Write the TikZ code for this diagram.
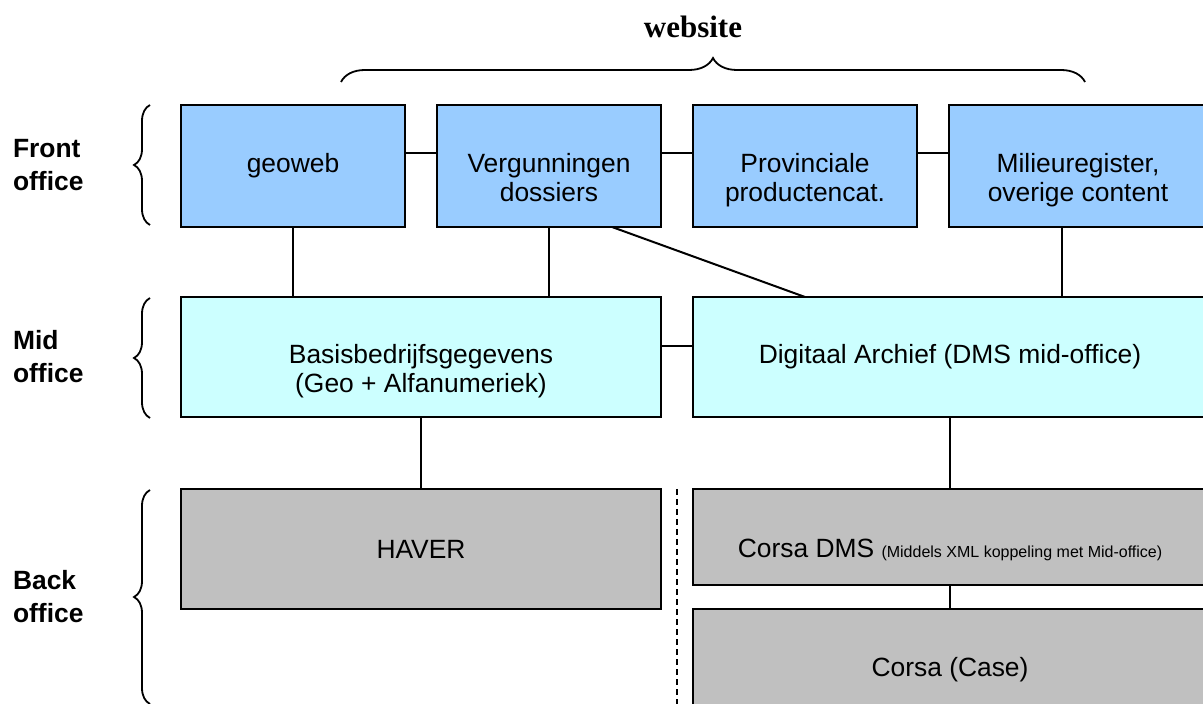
\documentclass[tikz,border=0pt]{standalone}
\usepackage{fontspec}
\setmainfont{Liberation Serif}
\setsansfont{Liberation Sans}
\usepackage{xcolor}
\usepackage{tikz}
\usetikzlibrary{positioning,calc,decorations.pathreplacing}

\definecolor{frontblue}{HTML}{99CCFF}
\definecolor{midcyan}{HTML}{CCFFFF}
\definecolor{backgray}{HTML}{C0C0C0}

\begin{document}
\begin{tikzpicture}[
  x=0.5pt, y=-0.5pt,
  node distance=16pt and 16pt,
  every node/.style={font=\sffamily\fontsize{13.2}{14.5}\selectfont},
  officebox/.style={rectangle, draw, line width=1pt, outer sep=0pt,
    align=center, minimum height=61pt},
  twoline/.style={text height=38.8pt, text depth=2.8pt},
  frontbox/.style={officebox, fill=frontblue, minimum width=112pt},
  midbox/.style={officebox, fill=midcyan, minimum height=60pt},
  backbox/.style={officebox, fill=backgray},
  link/.style={line width=1pt},
  officebrace/.style={decorate, decoration={brace, amplitude=8pt}, line width=0.9pt},
  layer/.style={font=\sffamily\bfseries\fontsize{13.2}{16.5}\selectfont,
    align=left, anchor=west},
]
\clip (0,0) rectangle (1203,704);

% Front office
\node[frontbox, anchor=north west] (geoweb) at (181,105) {geoweb};
\node[frontbox, twoline, right=of geoweb] (vergunning) {Vergunningen\\dossiers};
\node[frontbox, twoline, right=of vergunning] (productcat) {Provinciale\\productencat.};
\node[frontbox, twoline, right=of productcat, minimum width=129pt] (milieu) {Milieuregister,\\overige content};

% Mid office
\node[midbox, twoline, anchor=north west, minimum width=240pt] (basis) at (181,297)
  {Basisbedrijfsgegevens\\(Geo + Alfanumeriek)};
\node[midbox, right=of basis, minimum width=257pt] (archief) {Digitaal Archief (DMS mid-office)};

% Back office
\node[backbox, anchor=north west, minimum width=240pt, minimum height=60pt] (haver) at (181,489) {HAVER};
\node[backbox, anchor=north west, minimum width=257pt, minimum height=48pt,
  text height=24pt, text depth=3pt] (corsadms) at (693,489)
  {Corsa DMS {\fontsize{8}{9}\selectfont(Middels XML koppeling met Mid-office)}};
\node[backbox, below=12pt of corsadms, minimum width=257pt] (corsacase) {Corsa (Case)};

% Links
\draw[link] ([yshift=6.5pt]geoweb.east) -- ([yshift=6.5pt]vergunning.west);
\draw[link] ([yshift=6.5pt]vergunning.east) -- ([yshift=6.5pt]productcat.west);
\draw[link] ([yshift=6.5pt]productcat.east) -- ([yshift=6.5pt]milieu.west);
\draw[link] (geoweb.south) -- (geoweb.south |- basis.north);
\draw[link] (vergunning.south) -- (vergunning.south |- basis.north);
\draw[link] ([xshift=31.5pt]vergunning.south) -- ([xshift=-72.5pt]archief.north);
\draw[link] ([xshift=-8pt]milieu.south) -- ([xshift=-8pt]milieu.south |- archief.north);
\draw[link] ([yshift=5.5pt]basis.east) -- ([yshift=5.5pt]archief.west);
\draw[link] (basis.south) -- (haver.north);
\draw[link] (archief.south) -- (corsadms.north);
\draw[link] (corsadms) -- (corsacase);

% Separator
\coordinate (sepTop) at ($(haver.north east)!0.5!(corsadms.north west)$);
\coordinate (sepBot) at (sepTop |- 0,704);
\draw[line width=0.6pt, dash pattern=on 3pt off 2pt] (sepTop) -- (sepBot);

% Braces
\draw[officebrace, decoration={amplitude=12pt}] (341,82) -- (1085,82);
\draw[officebrace] (150,225) -- (150,105);
\draw[officebrace] (150,418) -- (150,298);
\draw[officebrace] (150,704) -- (150,490);

% Labels
\node[font=\rmfamily\bfseries\fontsize{15.5}{18}\selectfont] (website) at (693,27) {website};
\node[layer] (front) at (6,165) {Front\\office};
\node[layer] (mid) at (6,357) {Mid\\office};
\node[layer] (back) at (6,597) {Back\\office};

\end{tikzpicture}
\end{document}
